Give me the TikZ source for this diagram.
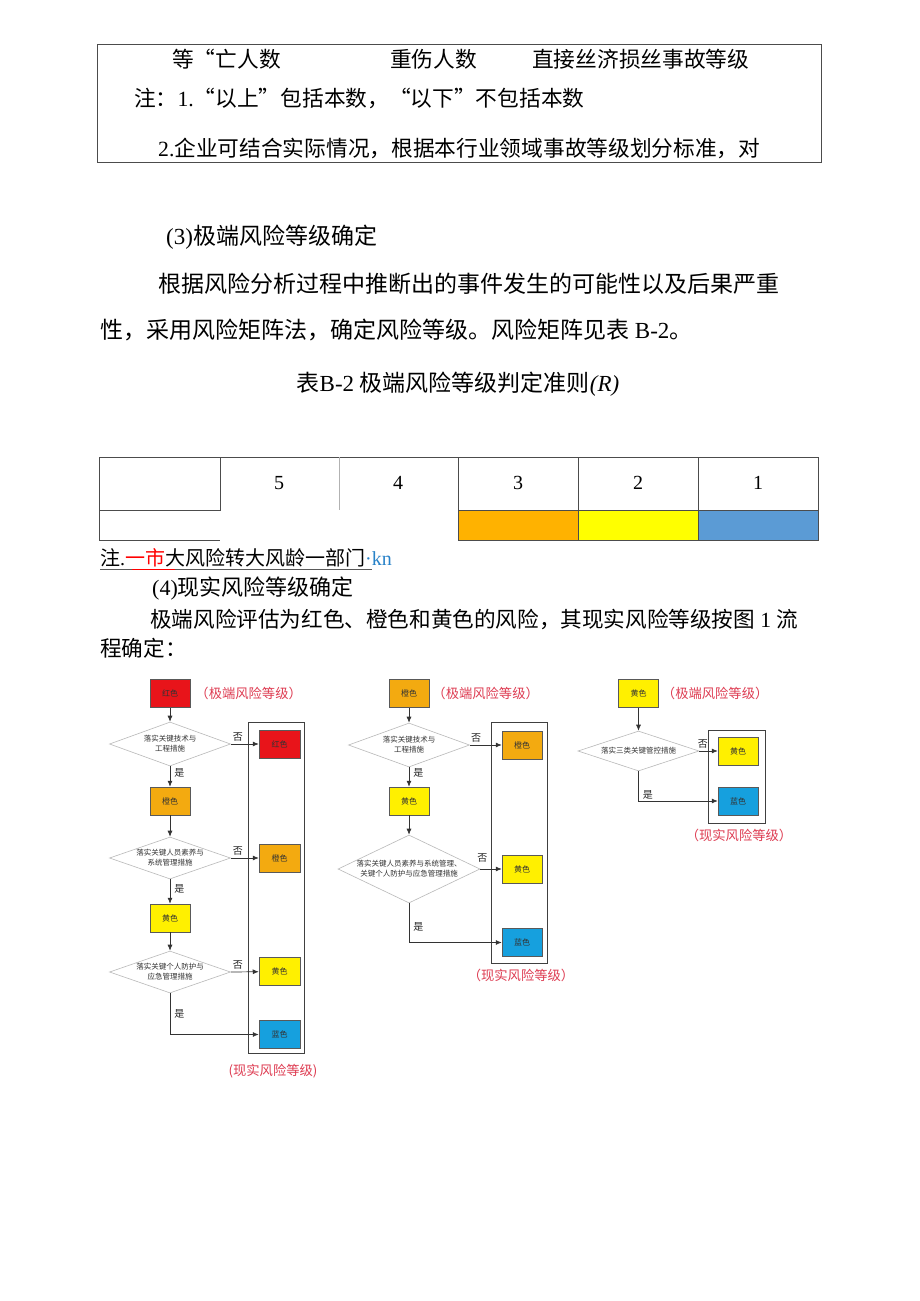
\documentclass[tikz,border=0pt]{standalone}
\usepackage{fontspec}
\setmainfont{Noto Sans CJK SC}
\newfontfamily\latfont{Liberation Serif}
\newcommand\lat[1]{{\latfont #1}}
\usepackage{tikz}
\usetikzlibrary{shapes.geometric, arrows.meta, positioning}
\definecolor{lvred}{RGB}{232, 20, 26}
\definecolor{lvorange}{RGB}{243, 170, 16}
\definecolor{lvyellow}{RGB}{255, 240, 0}
\definecolor{lvblue}{RGB}{22, 160, 222}
\definecolor{tagred}{RGB}{222, 60, 82}
\definecolor{cellorange}{RGB}{255, 178, 0}
\definecolor{cellyellow}{RGB}{255, 255, 0}
\definecolor{cellblue}{RGB}{91, 155, 213}
\definecolor{linkblue}{RGB}{40, 130, 200}

\begin{document}
\begin{tikzpicture}[x=1pt, y=-1pt,
  body/.style={anchor=west, inner sep=0pt, font=\fontsize{23}{23}\selectfont},
  tbl/.style={anchor=west, inner sep=0pt, font=\fontsize{21.7}{22}\selectfont},
  grid/.style={draw=gray!60!black, line width=0.9pt},
  num/.style={inner sep=0pt, font=\latfont\fontsize{20}{20}\selectfont},
  level/.style={rectangle, draw=gray!70!black, line width=0.5pt,
                minimum width=40pt, minimum height=28pt, inner sep=0pt,
                font=\fontsize{8}{8}\selectfont, text=black!80},
  check/.style={diamond, draw=gray!55, fill=white, inner sep=0pt, line width=0.6pt},
  qtext/.style={align=center, inner sep=0pt, font=\fontsize{7.5}{10}\selectfont, text=black!80},
  tag/.style={inner sep=0pt, text=tagred, font=\fontsize{13.3}{13.3}\selectfont},
  yn/.style={inner sep=0pt, font=\fontsize{10}{10}\selectfont, text=black!85},
  arr/.style={-{Latex[length=6pt, width=5pt]}, line width=0.7pt, black!80},
  frame/.style={draw=gray!50!black, line width=0.8pt}
]
\useasboundingbox[fill=white] (0,0) rectangle (920,1301);

% table on top
\draw[grid] (97,44) rectangle (821,162);
\node[tbl] (head1) at (172,59) {等“亡人数};
\node[tbl] (head2) at (390,59) {重伤人数};
\node[tbl] (head3) at (532,59) {直接丝济损丝事故等级};
\node[tbl] (note1) at (134,98) {注：\lat{1.}“以上”包括本数，“以下”不包括本数};
\node[tbl] (note2) at (158,148) {\lat{2.}企业可结合实际情况，根据本行业领域事故等级划分标准，对};

% text
\node[body] (sec3) at (166,237) {\lat{(3)}极端风险等级确定};
\node[body] (para1) at (158,284) {根据风险分析过程中推断出的事件发生的可能性以及后果严重};
\node[body] (para2) at (100,330) {性，采用风险矩阵法，确定风险等级。风险矩阵见表\lat{ B-2}。};
\node[body, anchor=center] (caption) at (458,384) {表\lat{B-2 }极端风险等级判定准则\lat{\itshape (R)}};

% risk matrix
\fill[cellorange] (458,510) rectangle (578,540);
\fill[cellyellow] (578,510) rectangle (698,540);
\fill[cellblue] (698,510) rectangle (818,540);
\draw[grid] (99,457) -- (818,457) -- (818,540) -- (458,540) -- (458,457);
\draw[grid] (99,457) -- (99,540) -- (220,540);
\draw[grid] (220,457) -- (220,510) -- (99,510);
\draw[grid, draw=gray!60] (339,457) -- (339,510);
\draw[grid] (458,510) -- (818,510);
\draw[grid] (578,457) -- (578,540);
\draw[grid] (698,457) -- (698,540);
\node[num] (n5) at (279,483) {5};
\node[num] (n4) at (398,483) {4};
\node[num] (n3) at (518,483) {3};
\node[num] (n2) at (638,483) {2};
\node[num] (n1) at (758,483) {1};

\node[body, font=\fontsize{20}{20}\selectfont] (remark) at (100,558)
  {注\lat{.}{\color{red}一市}大风险转大风龄一部门{\color{linkblue}\lat{·kn}}};
\draw[gray!70!black, line width=0.8pt] (100,569) -- (372,569);
\draw[red, line width=0.8pt] (132,569) -- (175,569);

\node[body, font=\fontsize{22}{22}\selectfont] (sec4) at (152,589) {\lat{(4)}现实风险等级确定};
\node[body, font=\fontsize{21.6}{22}\selectfont] (para3) at (150,619) {极端风险评估为红色、橙色和黄色的风险，其现实风险等级按图\lat{ 1 }流};
\node[body, font=\fontsize{21.6}{22}\selectfont] (para4) at (100,648) {程确定：};

% chart 1: red
\node[level, fill=lvred] (a0) at (170,693.5) {红色};
\node[tag, right=5pt of a0] (atop) {（极端风险等级）};
\node[check, minimum width=121pt, minimum height=44pt,
      label={[qtext]center:落实关键技术与\\工程措施}] (aq1) at (170,744) {};
\node[level, fill=lvorange] (a1) at (170,801) {橙色};
\node[check, minimum width=121pt, minimum height=42pt,
      label={[qtext]center:落实关键人员素养与\\系统管理措施}] (aq2) at (170,858) {};
\node[level, fill=lvyellow] (a2) at (170,918) {黄色};
\node[check, minimum width=121pt, minimum height=42pt,
      label={[qtext]center:落实关键个人防护与\\应急管理措施}] (aq3) at (170,972) {};
\draw[frame] (248,722) rectangle (304,1053);
\node[level, fill=lvred, minimum width=41pt] (ar1) at (279.5,744) {红色};
\node[level, fill=lvorange, minimum width=41pt] (ar2) at (279.5,858) {橙色};
\node[level, fill=lvyellow, minimum width=41pt] (ar3) at (279.5,971.5) {黄色};
\node[level, fill=lvblue, minimum width=41pt] (ar4) at (279.5,1034.5) {蓝色};
\node[tag] (abot) at (273,1071) {(现实风险等级)};
\draw[arr] (a0) -- (aq1);
\draw[arr] (aq1) -- node[yn, right=4pt, pos=0.3] {是} (a1);
\draw[arr] (a1) -- (aq2);
\draw[arr] (aq2) -- node[yn, right=4pt, pos=0.4] {是} (a2);
\draw[arr] (a2) -- (aq3);
\draw[arr] (aq1.east) -- node[yn, above=2pt, pos=0.25] {否} (ar1);
\draw[arr] (aq2.east) -- node[yn, above=2pt, pos=0.25] {否} (ar2);
\draw[arr] (aq3.east) -- node[yn, above=2pt, pos=0.25] {否} (ar3);
\draw[arr] (aq3.south) |- node[yn, right=4pt, pos=0.25] {是} (ar4);

% chart 2: orange
\node[level, fill=lvorange] (b0) at (409,693.5) {橙色};
\node[tag, right=3pt of b0] (btop) {（极端风险等级）};
\node[check, minimum width=121pt, minimum height=44pt,
      label={[qtext]center:落实关键技术与\\工程措施}] (bq1) at (409,745) {};
\node[level, fill=lvyellow] (b1) at (409,801) {黄色};
\node[check, minimum width=142pt, minimum height=68pt,
      label={[qtext]center:落实关键人员素养与系统管理、\\关键个人防护与应急管理措施}] (bq2) at (409,869) {};
\draw[frame] (491,722) rectangle (547,963);
\node[level, fill=lvorange] (br1) at (522,745) {橙色};
\node[level, fill=lvyellow] (br2) at (522,869) {黄色};
\node[level, fill=lvblue] (br3) at (522,942.5) {蓝色};
\node[tag] (bbot) at (521,975) {（现实风险等级）};
\draw[arr] (b0) -- (bq1);
\draw[arr] (bq1) -- node[yn, right=4pt, pos=0.3] {是} (b1);
\draw[arr] (b1) -- (bq2);
\draw[arr] (bq1.east) -- node[yn, above=2pt, pos=0.2] {否} (br1);
\draw[arr] (bq2.east) -- node[yn, above=6pt, pos=0.1] {否} (br2);
\draw[arr] (bq2.south) |- node[yn, right=4pt, pos=0.3] {是} (br3);

% chart 3: yellow
\node[level, fill=lvyellow] (c0) at (638.5,693.5) {黄色};
\node[tag, right=3pt of c0] (ctop) {（极端风险等级）};
\node[check, minimum width=121pt, minimum height=40pt,
      label={[qtext]center:落实三类关键管控措施}] (cq1) at (638.5,751) {};
\draw[frame] (708,730) rectangle (765,823);
\node[level, fill=lvyellow] (cr1) at (738,751) {黄色};
\node[level, fill=lvblue] (cr2) at (738,801) {蓝色};
\node[tag] (cbot) at (739,835) {（现实风险等级）};
\draw[arr] (c0) -- (cq1);
\draw[arr] (cq1.east) -- node[yn, above=2pt, pos=0.2] {否} (cr1);
\draw[arr] (cq1.south) |- node[yn, right=4pt, pos=0.4] {是} (cr2);
\end{tikzpicture}
\end{document}
